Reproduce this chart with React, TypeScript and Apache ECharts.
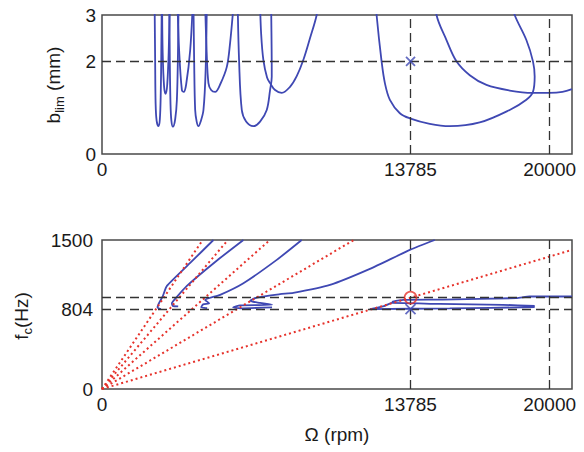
import React, { useEffect, useRef } from "react";
import * as echarts from "echarts";

// ---------- data ----------
const speedTicks = [0, 13785, 20000];
const depthTicks = [0, 2, 3];
const freqTicks = [0, 804, 1500];
const selectedSpeed = 13785;
const maxSpeedLine = 20000;
const depthLimit = 2;
const chatterFreq = 804;
const toothFreq = 919;

// stability lobes: [spindle speed (rpm), b_lim (mm)]
const lobeA1 = [[2350, 3.3], [2375, 2.0], [2395, 1.1], [2440, 0.72], [2525, 0.6], [2585, 0.75], [2625, 1.3], [2650, 2.2], [2670, 3.3]];
const lobeB1 = [[2685, 3.3], [2710, 2.2], [2775, 1.45], [2846, 1.3], [2915, 1.5], [2980, 2.2], [3030, 3.3]];
const lobeA2 = [[3010, 3.3], [3030, 2.0], [3060, 1.1], [3100, 0.72], [3168, 0.59], [3270, 0.75], [3346, 1.17], [3395, 2.2], [3420, 3.3]];
const lobeB2 = [[3370, 3.3], [3450, 2.2], [3570, 1.38], [3650, 1.34], [3760, 1.5], [3940, 2.24], [4060, 3.3]];
const lobeA3 = [[4085, 3.3], [4118, 2.0], [4163, 0.95], [4230, 0.7], [4310, 0.6], [4408, 0.7], [4533, 0.95], [4630, 1.8], [4685, 3.3]];
const lobeB3 = [[4605, 3.3], [4676, 2.2], [4756, 1.53], [4876, 1.38], [5055, 1.34], [5278, 1.5], [5577, 1.88], [5724, 2.4], [5860, 3.1], [5905, 3.3]];
const lobeA4 = [[6060, 3.3], [6126, 2.0], [6246, 0.95], [6438, 0.7], [6764, 0.6], [7063, 0.7], [7361, 0.95], [7509, 1.38], [7585, 1.67], [7580, 2.2], [7555, 3.3]];
const lobeB4 = [[7060, 3.3], [7110, 2.6], [7210, 2.03], [7375, 1.65], [7509, 1.53], [7734, 1.38], [8031, 1.32], [8401, 1.45], [8700, 1.68], [8994, 2.03], [9293, 2.5], [9592, 3.0], [9650, 3.3]];
const lobeA5 = [[12240, 3.3], [12269, 3.0], [12492, 2.0], [12640, 1.53], [12863, 1.17], [13309, 0.88], [13755, 0.77], [14647, 0.65], [15539, 0.6], [16878, 0.68], [18216, 0.95], [18961, 1.17], [19256, 1.34], [19332, 1.67], [19256, 2.0], [18961, 2.46], [18439, 3.0], [18300, 3.3]];
const lobeB5 = [[14900, 3.3], [14946, 3.0], [15392, 2.46], [15838, 2.0], [16432, 1.7], [17177, 1.49], [18216, 1.37], [19243, 1.32], [19992, 1.32], [20572, 1.34], [21000, 1.4]];

// chatter frequency curves: [spindle speed (rpm), f_c (Hz)]
const freqCurve1 = [[2632, 804], [2481, 820], [2525, 854], [2722, 938], [2900, 1038], [3940, 1269], [4979, 1500]];
const freqCurve2 = [[3404, 832], [3159, 837], [3123, 862], [3248, 902], [3792, 1038], [5055, 1279], [6318, 1500]];
const freqCurve3 = [[4698, 814], [4430, 822], [4519, 852], [4787, 862], [4609, 897], [5278, 948], [6318, 1065], [7808, 1300], [8923, 1500]];
const freqCurve4 = [[7598, 822], [6170, 812], [5858, 822], [6170, 842], [7598, 847], [7063, 867], [6616, 887], [6915, 921], [7955, 955], [8548, 968], [10186, 1048], [11970, 1209], [13755, 1400], [14870, 1500]];
const freqCurve5 = [[19332, 824], [15539, 812], [11970, 804], [12640, 837], [12952, 867], [15093, 857], [17904, 847], [19332, 837]];
const freqCurve6 = [[12952, 878], [13456, 897], [15227, 900], [18515, 915], [19109, 931], [21000, 931]];

// tooth-passing harmonic lines from the origin: end points
const harmonicEnds = [[21000, 1400], [11250, 1500], [7500, 1500], [5625, 1500], [4500, 1500]];

const topLobes = [lobeA1, lobeB1, lobeA2, lobeB2, lobeA3, lobeB3, lobeA4, lobeB4, lobeA5, lobeB5];
const freqCurves = [freqCurve1, freqCurve2, freqCurve3, freqCurve4, freqCurve5, freqCurve6];

export default function App() {
  const ref = useRef<HTMLDivElement>(null);

  useEffect(() => {
    document.body.style.margin = "0";
    const chart = echarts.init(ref.current!, null, { renderer: "svg" });
    const blue = "#3f48b3";
    const red = "#e6322b";
    const font = "Liberation Sans";
    const textColor = "#1a1a1a";
    const dash = { type: [9, 5] as any, color: "#333", width: 1.3 };
    const plain = (v: number) => String(v);
    const nameRich = {
      m: { fontFamily: font, fontSize: 19, fill: textColor, color: textColor, lineHeight: 26 },
      s: { fontFamily: font, fontSize: 13, fill: textColor, color: textColor, lineHeight: 13, verticalAlign: "bottom" },
    };

    const xAxisBase = (gridIndex: number) => ({
      type: "value",
      gridIndex,
      min: 0,
      max: 21000,
      splitLine: { show: false },
      axisTick: { show: false },
      axisLine: { show: false },
      axisLabel: {
        customValues: speedTicks,
        formatter: plain,
        fontFamily: font,
        fontSize: 19,
        color: textColor,
        margin: 6,
      },
    });

    const topSeries = topLobes.map((d, i) => ({
      type: "line",
      xAxisIndex: 0,
      yAxisIndex: 0,
      data: d,
      showSymbol: false,
      smooth: 0.35,
      clip: true,
      lineStyle: { color: blue, width: 1.8 },
      z: 3,
      ...(i === 0
        ? {
            markLine: {
              silent: true,
              symbol: ["none", "none"],
              label: { show: false },
              lineStyle: dash,
              data: [{ xAxis: selectedSpeed }, { xAxis: maxSpeedLine }, { yAxis: depthLimit }],
            },
          }
        : {}),
    }));

    const redSeries = harmonicEnds.map((end) => ({
      type: "line",
      xAxisIndex: 1,
      yAxisIndex: 1,
      data: [[0, 0], end],
      showSymbol: false,
      clip: true,
      lineStyle: { color: red, width: 2, type: [2, 3] as any },
      z: 4,
    }));

    const blueSeries = freqCurves.map((d, i) => ({
      type: "line",
      xAxisIndex: 1,
      yAxisIndex: 1,
      data: d,
      showSymbol: false,
      smooth: 0.2,
      clip: true,
      lineStyle: { color: blue, width: 1.8 },
      z: 3,
      ...(i === 0
        ? {
            markLine: {
              silent: true,
              symbol: ["none", "none"],
              label: { show: false },
              lineStyle: dash,
              data: [{ xAxis: selectedSpeed }, { xAxis: maxSpeedLine }, { yAxis: chatterFreq }, { yAxis: toothFreq }],
            },
          }
        : {}),
    }));

    const cross = "path://M0 0L10 10M10 0L0 10";

    chart.setOption({
      animation: false,
      textStyle: { fontFamily: font },
      grid: [
        { left: 102, top: 15, width: 470, height: 139, show: true, borderColor: "#4a4a4a", borderWidth: 1.5, backgroundColor: "transparent" },
        { left: 102, top: 240, width: 470, height: 149, show: true, borderColor: "#4a4a4a", borderWidth: 1.5, backgroundColor: "transparent" },
      ],
      graphic: [
        {
          type: "text",
          x: 53,
          y: 85,
          rotation: Math.PI / 2,
          style: { text: "{m|b}{s|lim}{m| (mm)}", rich: nameRich, align: "center", verticalAlign: "middle", fill: textColor },
        },
        {
          type: "text",
          x: 21,
          y: 316,
          rotation: Math.PI / 2,
          style: { text: "{m|f}{s|c}{m|(Hz)}", rich: nameRich, align: "center", verticalAlign: "middle", fill: textColor },
        },
      ],
      xAxis: [
        xAxisBase(0),
        {
          ...xAxisBase(1),
          name: "Ω (rpm)",
          nameLocation: "middle",
          nameGap: 36,
          nameTextStyle: { fontFamily: font, fontSize: 19, color: textColor },
        },
      ],
      yAxis: [
        {
          type: "value",
          gridIndex: 0,
          min: 0,
          max: 3,
          splitLine: { show: false },
          axisTick: { show: false },
          axisLine: { show: false },
          axisLabel: { customValues: depthTicks, formatter: plain, fontFamily: font, fontSize: 19, color: textColor, margin: 6 },
        },
        {
          type: "value",
          gridIndex: 1,
          min: 0,
          max: 1500,
          splitLine: { show: false },
          axisTick: { show: false },
          axisLine: { show: false },
          axisLabel: { customValues: freqTicks, formatter: plain, fontFamily: font, fontSize: 19, color: textColor, margin: 9 },
        },
      ],
      series: [
        ...topSeries,
        {
          type: "scatter",
          xAxisIndex: 0,
          yAxisIndex: 0,
          data: [[selectedSpeed, depthLimit]],
          symbol: cross,
          symbolSize: 9,
          itemStyle: { color: "none", borderColor: blue, borderWidth: 1.8 },
          z: 5,
        },
        ...blueSeries,
        ...redSeries,
        {
          type: "scatter",
          xAxisIndex: 1,
          yAxisIndex: 1,
          data: [[selectedSpeed, toothFreq]],
          symbol: "circle",
          symbolSize: 12,
          itemStyle: { color: "none", borderColor: red, borderWidth: 1.6 },
          z: 6,
        },
        {
          type: "scatter",
          xAxisIndex: 1,
          yAxisIndex: 1,
          data: [[selectedSpeed, chatterFreq]],
          symbol: cross,
          symbolSize: 10,
          itemStyle: { color: "none", borderColor: blue, borderWidth: 1.8 },
          z: 6,
        },
      ],
    });

    return () => chart.dispose();
  }, []);

  return <div ref={ref} style={{ position: "absolute", left: 0, top: 0, width: 584, height: 452 }} />;
}
